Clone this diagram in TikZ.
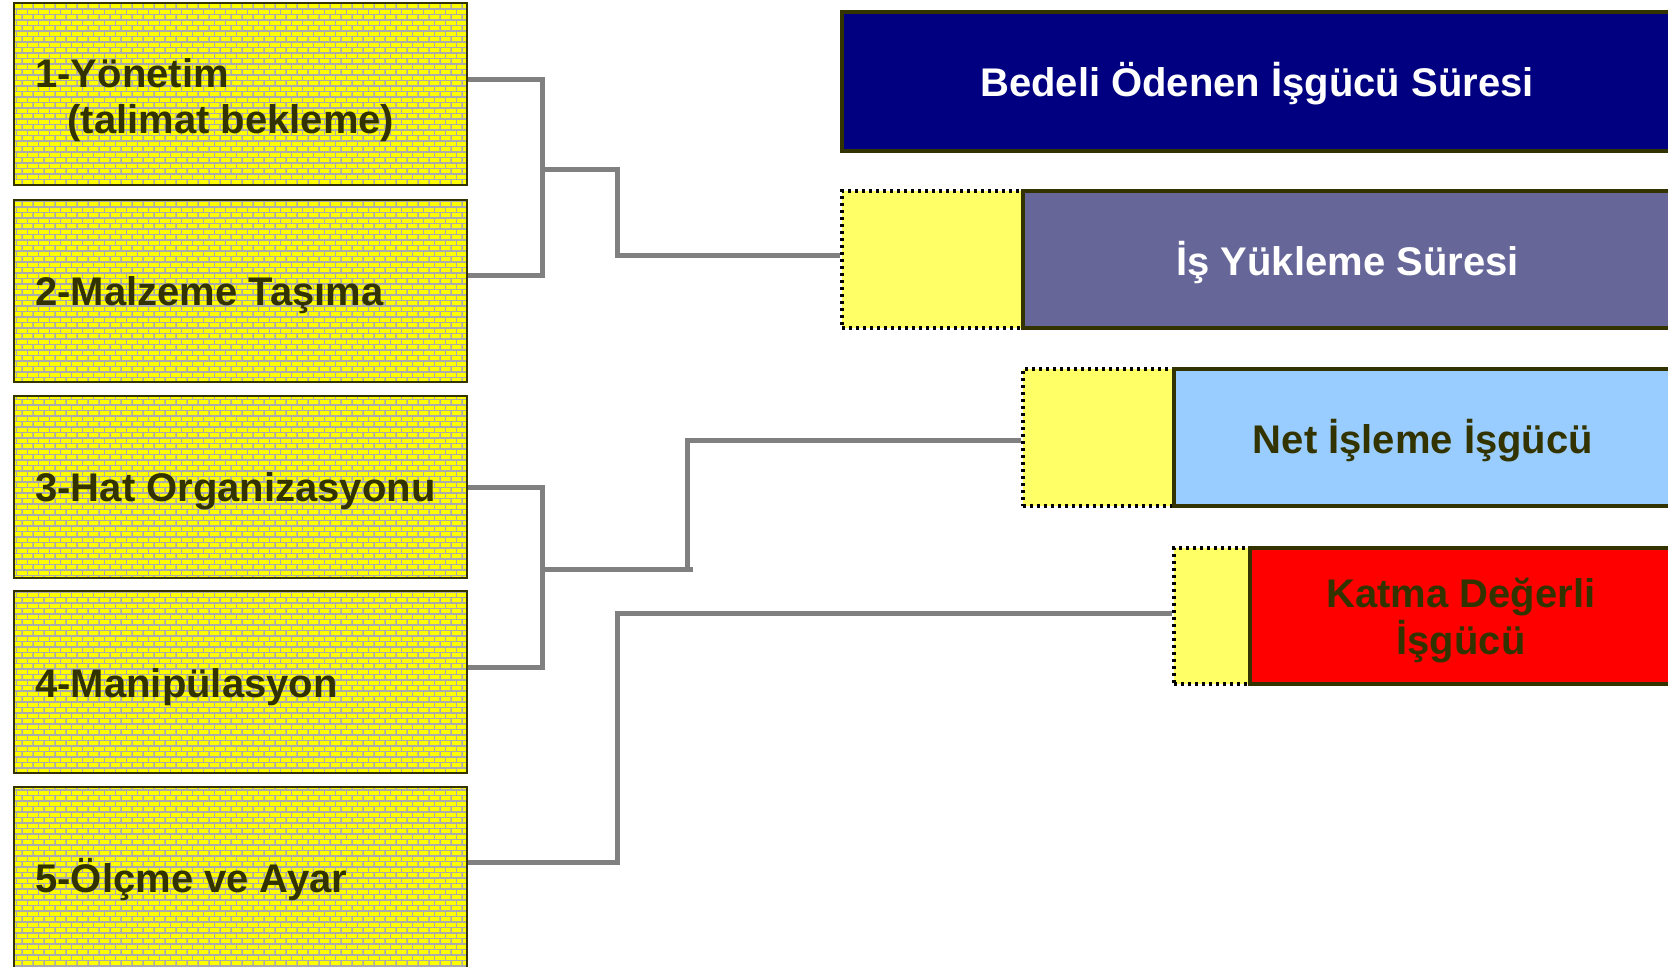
\documentclass[tikz,border=0pt]{standalone}
\usepackage{fontspec}
\setmainfont{Liberation Sans}
\usetikzlibrary{patterns}
\definecolor{olivedark}{HTML}{333300}
\definecolor{mortar}{HTML}{ABABAB}
\definecolor{brickyellow}{HTML}{FFFF00}
\definecolor{softyellow}{HTML}{FFFF66}
\definecolor{navybar}{HTML}{000080}
\definecolor{purplebar}{HTML}{666699}
\definecolor{bluebar}{HTML}{99CCFF}
\definecolor{redbar}{HTML}{FF0000}
\definecolor{connector}{HTML}{808080}
\pgfdeclarepatternformonly{mybricks}{\pgfqpoint{-0.3pt}{-0.3pt}}{\pgfqpoint{5.8pt}{5.8pt}}{\pgfqpoint{5.5pt}{5.5pt}}{%
  \pgfsetlinewidth{0.55pt}%
  \pgfpathmoveto{\pgfqpoint{0pt}{0pt}}\pgfpathlineto{\pgfqpoint{5.5pt}{0pt}}%
  \pgfpathmoveto{\pgfqpoint{0pt}{2.75pt}}\pgfpathlineto{\pgfqpoint{5.5pt}{2.75pt}}%
  \pgfpathmoveto{\pgfqpoint{0pt}{0pt}}\pgfpathlineto{\pgfqpoint{0pt}{2.75pt}}%
  \pgfpathmoveto{\pgfqpoint{2.75pt}{2.75pt}}\pgfpathlineto{\pgfqpoint{2.75pt}{5.5pt}}%
  \pgfusepath{stroke}%
}
\tikzset{
  leftbox/.style={rectangle, preaction={fill=brickyellow}, pattern=mybricks, pattern color=mortar,
    draw=olivedark, line width=1.3pt, minimum width=226.5pt, minimum height=91pt, inner sep=0pt},
  lefttext/.style={anchor=base west, inner sep=0pt, text=olivedark,
    font=\fontsize{20}{23.5}\selectfont\bfseries},
  dotbox/.style={rectangle, fill=softyellow, draw=black, line width=1.6pt,
    dash pattern=on 1.6pt off 1.9pt, inner sep=0pt},
  bar/.style={rectangle, draw=olivedark, line width=2pt, inner sep=0pt},
  bartext/.style={anchor=base, inner sep=0pt, font=\fontsize{20}{23}\selectfont\bfseries},
  conn/.style={draw=connector, line width=2.5pt}
}
\begin{document}
\begin{tikzpicture}[x=0.5pt,y=-0.5pt]
\useasboundingbox (0,0) rectangle (1668,966);
\clip (0,0) rectangle (1668,966);
\fill[white] (0,0) rectangle (1668,966);

% connectors
\coordinate (v1) at (542,169);
\coordinate (k1) at (617,169);
\coordinate (v2) at (542,569);
\coordinate (k2) at (687,569);
\coordinate (k2e) at (693,569);

% left boxes
\node[leftbox] (b1) at (240.5,94) {};
\node[leftbox] (b2) at (240.5,291) {};
\node[leftbox] (b3) at (240.5,487) {};
\node[leftbox] (b4) at (240.5,682) {};
\node[leftbox] (b5) at (240.5,878) {};
\node[lefttext] (t1a) at (35,87) {1-Yönetim};
\node[lefttext] (t1b) at (67,133) {(talimat bekleme)};
\node[lefttext] (t2) at (35,305) {2-Malzeme Taşıma};
\node[lefttext] (t3) at (35,501) {3-Hat Organizasyonu};
\node[lefttext] (t4) at (35,697) {4-Manipülasyon};
\node[lefttext] (t5) at (35,892) {5-Ölçme ve Ayar};

% right boxes
\node[bar, fill=navybar, minimum width=415pt, minimum height=69.5pt] (bedeli) at (1257,81.5) {};
\node[dotbox, minimum width=90.5pt, minimum height=68.5pt] (dy) at (932.5,259.5) {};
\node[bar, fill=purplebar, minimum width=324.5pt, minimum height=68.5pt] (yuk) at (1347.5,259.5) {};
\node[dotbox, minimum width=75.5pt, minimum height=68.5pt] (dn) at (1098.5,437.5) {};
\node[bar, fill=bluebar, minimum width=249pt, minimum height=68.5pt] (net) at (1423,437.5) {};
\node[dotbox, minimum width=38pt, minimum height=68pt] (dk) at (1212,616) {};
\node[bar, fill=redbar, minimum width=211pt, minimum height=68pt] (katma) at (1461,616) {};

\node[bartext, text=white] (tbed) at (1257,96) {Bedeli Ödenen İşgücü Süresi};
\node[bartext, text=white] (tyuk) at (1347.5,275) {İş Yükleme Süresi};
\node[bartext, text=olivedark] (tnet) at (1423,453) {Net İşleme İşgücü};
\node[bartext, text=olivedark] (tkat1) at (1461,607) {Katma Değerli};
\node[bartext, text=olivedark] (tkat2) at (1461,654) {İşgücü};

\draw[conn] ([yshift=7.5pt]b1.east) -| (v1) |- ([yshift=8pt]b2.east);
\draw[conn] (v1) -- (k1) |- ([yshift=2.25pt]dy.west);
\draw[conn] (b3.east) -| (v2) |- ([yshift=7.5pt]b4.east);
\draw[conn] (v2) -- (k2e);
\draw[conn] (k2) |- ([yshift=-1.25pt]dn.west);
\draw[conn] ([yshift=8pt]b5.east) -| (k1 |- 0,613) -- ([yshift=1.5pt]dk.west);
\end{tikzpicture}
\end{document}
